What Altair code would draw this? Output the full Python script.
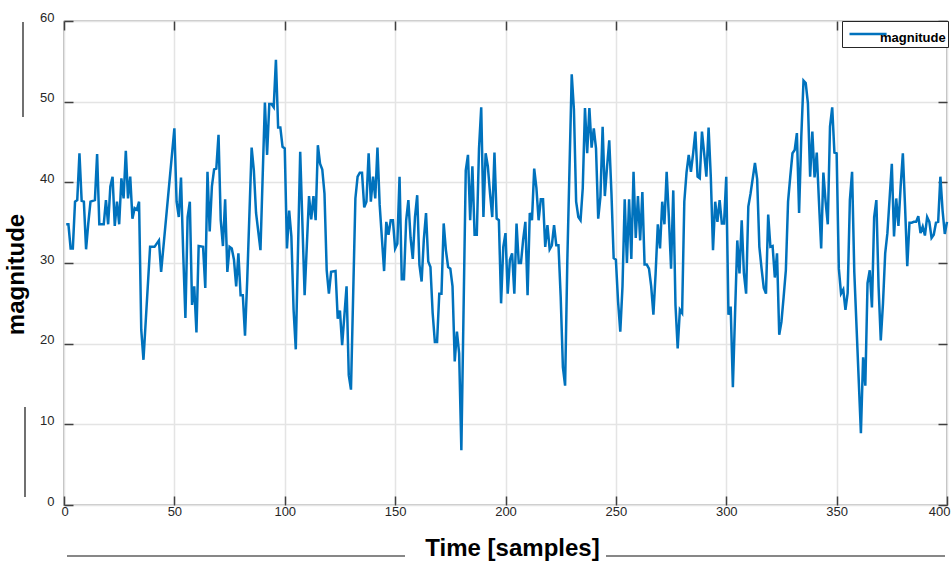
import altair as alt
import pandas as pd

# ---- data ----
samples = [
    1, 2, 3, 4, 5, 6, 7, 8, 9, 10,
    11, 12, 14, 15, 16, 18, 19, 20, 21, 22,
    23, 24, 25, 26, 27, 28, 29, 30, 31, 32,
    33, 34, 35, 36, 39, 41, 43, 44, 50, 51,
    52, 53, 54, 55, 56, 57, 58, 59, 60, 61,
    63, 64, 65, 66, 67, 68, 69, 70, 71, 72,
    73, 74, 75, 76, 77, 78, 79, 80, 81, 82,
    83, 85, 86, 87, 89, 91, 92, 93, 94, 95,
    96, 97, 98, 99, 100, 101, 102, 103, 104, 105,
    107, 109, 111, 112, 113, 114, 115, 116, 117, 118,
    119, 120, 121, 123, 124, 125, 126, 128, 129, 130,
    132, 133, 134, 135, 136, 137, 138, 139, 140, 141,
    142, 143, 145, 146, 147, 148, 149, 150, 151, 152,
    153, 154, 155, 156, 157, 158, 159, 160, 161, 162,
    163, 164, 165, 166, 167, 168, 169, 170, 171, 172,
    173, 174, 175, 176, 177, 178, 179, 180, 182, 183,
    184, 185, 186, 187, 188, 189, 190, 191, 192, 193,
    194, 195, 196, 197, 198, 199, 200, 201, 202, 203,
    204, 205, 206, 207, 208, 209, 210, 211, 212, 213,
    214, 215, 216, 217, 218, 219, 220, 221, 222, 223,
    224, 225, 226, 227, 228, 230, 231, 232, 233, 234,
    235, 236, 237, 238, 239, 240, 241, 242, 243, 244,
    245, 246, 247, 248, 249, 250, 251, 252, 253, 254,
    255, 256, 257, 258, 259, 260, 261, 262, 263, 264,
    265, 266, 267, 268, 269, 270, 271, 272, 273, 274,
    275, 276, 277, 278, 279, 280, 281, 282, 283, 284,
    285, 286, 287, 288, 289, 290, 291, 292, 293, 294,
    295, 296, 297, 298, 299, 300, 301, 302, 303, 304,
    305, 306, 307, 308, 309, 310, 311, 313, 314, 315,
    316, 317, 318, 319, 320, 321, 322, 323, 324, 325,
    326, 327, 328, 329, 330, 331, 332, 333, 334, 335,
    336, 337, 338, 339, 340, 341, 342, 343, 344, 345,
    346, 347, 348, 349, 350, 351, 352, 353, 354, 355,
    356, 357, 358, 361, 362, 363, 364, 365, 366, 367,
    368, 369, 370, 371, 372, 373, 374, 375, 376, 377,
    378, 379, 380, 381, 382, 383, 384, 385, 386, 387,
    388, 389, 390, 391, 392, 393, 394, 395, 396, 397,
    398, 399, 400,
]

magnitude = [
    34.8, 34.8, 31.8, 31.8, 37.6, 37.8, 43.6, 37.7, 37.6, 31.7,
    34.9, 37.6, 37.8, 43.5, 34.8, 34.8, 37.8, 34.8, 39.5, 40.7,
    34.6, 37.6, 34.8, 40.5, 38.0, 43.9, 38.0, 40.7, 35.5, 36.8,
    36.6, 37.6, 21.7, 18.0, 32.0, 32.0, 32.8, 28.9, 46.7, 37.6,
    35.7, 40.6, 31.2, 23.2, 35.7, 37.6, 24.8, 27.1, 21.4, 32.1,
    32.0, 26.9, 41.3, 33.9, 39.5, 41.6, 41.7, 45.9, 35.3, 32.1,
    37.9, 28.9, 32.0, 31.8, 30.4, 27.1, 31.2, 26.0, 26.0, 21.0,
    27.9, 44.3, 41.5, 36.2, 31.6, 49.9, 43.4, 49.7, 49.7, 49.3,
    55.2, 46.8, 46.8, 44.4, 44.2, 31.8, 36.5, 33.3, 24.2, 19.3,
    43.8, 26.0, 38.3, 35.4, 38.3, 35.3, 44.6, 42.3, 41.6, 38.6,
    29.1, 26.2, 28.9, 29.0, 23.1, 24.1, 19.8, 27.1, 16.1, 14.3,
    38.0, 40.7, 41.2, 41.2, 36.9, 37.6, 43.6, 37.6, 40.7, 38.0,
    44.3, 37.2, 29.0, 35.1, 33.5, 35.3, 35.3, 31.8, 32.4, 40.7,
    28.0, 28.0, 35.3, 37.8, 33.1, 30.5, 35.7, 38.4, 29.8, 27.7,
    32.9, 36.2, 30.2, 29.5, 23.8, 20.2, 20.2, 26.2, 26.2, 34.9,
    31.6, 29.5, 29.3, 27.1, 17.8, 21.5, 18.8, 6.8, 41.5, 43.4,
    35.3, 42.0, 33.5, 33.5, 44.2, 49.3, 35.7, 43.6, 42.0, 38.6,
    35.7, 43.7, 35.5, 35.3, 25.0, 32.0, 33.7, 26.2, 30.4, 31.2,
    26.2, 34.9, 30.0, 30.0, 32.9, 35.1, 26.0, 36.2, 35.3, 41.7,
    39.3, 35.3, 37.9, 37.9, 32.0, 34.7, 31.7, 32.2, 34.7, 32.2,
    32.2, 25.8, 17.1, 14.8, 30.2, 53.4, 49.0, 37.6, 35.7, 35.3,
    39.3, 49.2, 43.6, 49.2, 44.3, 46.7, 44.2, 35.5, 38.2, 46.9,
    38.3, 41.9, 45.2, 38.6, 30.6, 30.4, 25.2, 21.5, 27.1, 37.9,
    30.0, 37.9, 30.5, 41.3, 33.1, 38.3, 32.8, 38.8, 29.8, 29.8,
    29.3, 27.1, 23.6, 28.7, 34.8, 31.8, 37.6, 34.8, 41.3, 35.7,
    29.3, 39.0, 24.8, 19.4, 24.2, 23.8, 37.6, 41.2, 43.4, 41.3,
    43.6, 46.3, 40.7, 40.5, 46.3, 43.6, 40.7, 46.8, 40.7, 31.6,
    37.6, 35.1, 37.8, 34.9, 34.9, 40.7, 23.6, 24.6, 14.6, 23.8,
    32.8, 28.7, 35.3, 28.7, 26.2, 37.0, 38.6, 42.4, 40.4, 32.0,
    29.3, 26.9, 26.2, 36.0, 32.0, 32.1, 28.2, 31.2, 21.1, 22.7,
    25.8, 29.1, 37.6, 40.7, 43.6, 44.0, 46.1, 36.2, 45.7, 52.6,
    52.3, 49.8, 40.7, 46.3, 40.6, 43.7, 37.6, 31.8, 41.2, 37.6,
    34.8, 46.9, 49.3, 43.7, 43.6, 29.3, 26.2, 26.7, 24.2, 26.3,
    37.8, 41.3, 28.9, 8.9, 18.3, 14.8, 27.5, 29.1, 24.5, 35.7,
    37.8, 27.1, 20.4, 25.0, 31.2, 33.7, 38.0, 42.3, 33.3, 38.0,
    34.6, 39.5, 43.6, 37.0, 29.6, 35.0, 35.0, 35.1, 35.1, 35.8,
    33.7, 34.5, 33.4, 35.7, 35.1, 33.1, 33.5, 35.0, 35.1, 40.7,
    36.5, 33.6, 35.1,
]

x_ticks = [0, 50, 100, 150, 200, 250, 300, 350, 400]
y_ticks = [0, 10, 20, 30, 40, 50, 60]
series_name = "magnitude"
x_title = "Time [samples]"
y_title = "magnitude"

assert len(samples) == len(magnitude)

df = pd.DataFrame({
    "sample": samples,
    "magnitude": magnitude,
    "series": [series_name] * len(samples),
})

# ---- styling ----
W, H = 883, 484
TICK = 9
FONT = "Liberation Sans"
FRAME = "#262626"
LINE_BLUE = "#0072BD"
# legend line sample: a short horizontal stroke drawn a little below the
# entry centre and reaching under the start of the label (as in the reference)
LEGEND_LINE = "M-1,0.36H4.3"

x_scale = alt.Scale(domain=[0, 400], nice=False, zero=False)
y_scale = alt.Scale(domain=[0, 60], nice=False)

main = alt.Chart(df).mark_line(strokeWidth=2.5, color=LINE_BLUE).encode(
    x=alt.X(
        "sample:Q", scale=x_scale,
        axis=alt.Axis(
            orient="bottom", values=x_ticks, offset=-TICK, tickSize=TICK,
            domain=False, grid=True, labelPadding=0, labelFlush=True,
            labelFlushOffset=3, labelBaseline="top", labelOverlap=False,
            title=x_title, titleX=448, titleY=59.5, titleAlign="center",
            titleBaseline="alphabetic",
        ),
    ),
    y=alt.Y(
        "magnitude:Q", scale=y_scale,
        axis=alt.Axis(
            orient="left", values=y_ticks, offset=-TICK, tickSize=TICK,
            domain=False, grid=True, labelPadding=10, labelFlush=False,
            labelOffset=-4, labelOverlap=False,
            title=y_title, titleX=-50, titleY=253, titleAngle=270,
            titleAlign="center", titleBaseline="alphabetic",
        ),
    ),
    color=alt.Color(
        "series:N",
        scale=alt.Scale(range=[LINE_BLUE]),
        legend=alt.Legend(
            title=None, orient="none", legendX=778, legendY=0,
            direction="vertical", symbolType=LEGEND_LINE, symbolSize=196,
            symbolStrokeWidth=2.5, symbolOffset=4, labelOffset=15,
            labelFont=FONT, labelFontSize=13, labelFontWeight="bold",
            labelColor="black", labelBaseline="top", padding=2,
            strokeColor=FRAME, fillColor="white", cornerRadius=0,
        ),
    ),
)

ghost = alt.Chart(df).mark_line(opacity=0).encode(
    x=alt.X(
        "sample:Q", scale=x_scale,
        axis=alt.Axis(orient="top", values=x_ticks, offset=-TICK, tickSize=TICK,
                      labels=False, domain=False, grid=False, title=None),
    ),
    y=alt.Y(
        "magnitude:Q", scale=y_scale,
        axis=alt.Axis(orient="right", values=y_ticks, offset=-TICK, tickSize=TICK,
                      labels=False, domain=False, grid=False, title=None),
    ),
)

dummy = pd.DataFrame({"k": [0]})


def deco(x1, x2, y1, y2):
    return alt.Chart(dummy).mark_rule(color="#111111", strokeWidth=1.2).encode(
        x=alt.value(x1), x2=alt.value(x2), y=alt.value(y1), y2=alt.value(y2)
    )


chart = alt.layer(
    main,
    ghost,
    deco(-41, -41, 1, 96),
    deco(-39, -39, 386, 476),
    deco(3, 341, 535, 535),
    deco(542, 881, 535, 535),
).resolve_axis(
    x="independent", y="independent"
).properties(
    width=W, height=H,
    autosize=alt.AutoSizeParams(type="none"),
    padding={"left": 64, "top": 21, "right": 4, "bottom": 58},
    background="white",
).configure_view(
    stroke=FRAME, strokeWidth=1.2
).configure_axis(
    labelFont=FONT, labelFontSize=13, labelColor="#262626",
    titleFont=FONT, titleFontSize=24, titleFontWeight="bold", titleColor="black",
    tickColor="#404040", tickWidth=1.5,
    gridColor="#e4e4e4", gridWidth=1.5,
)

chart.save("out.html", embed_options={"renderer": "svg", "actions": False})
